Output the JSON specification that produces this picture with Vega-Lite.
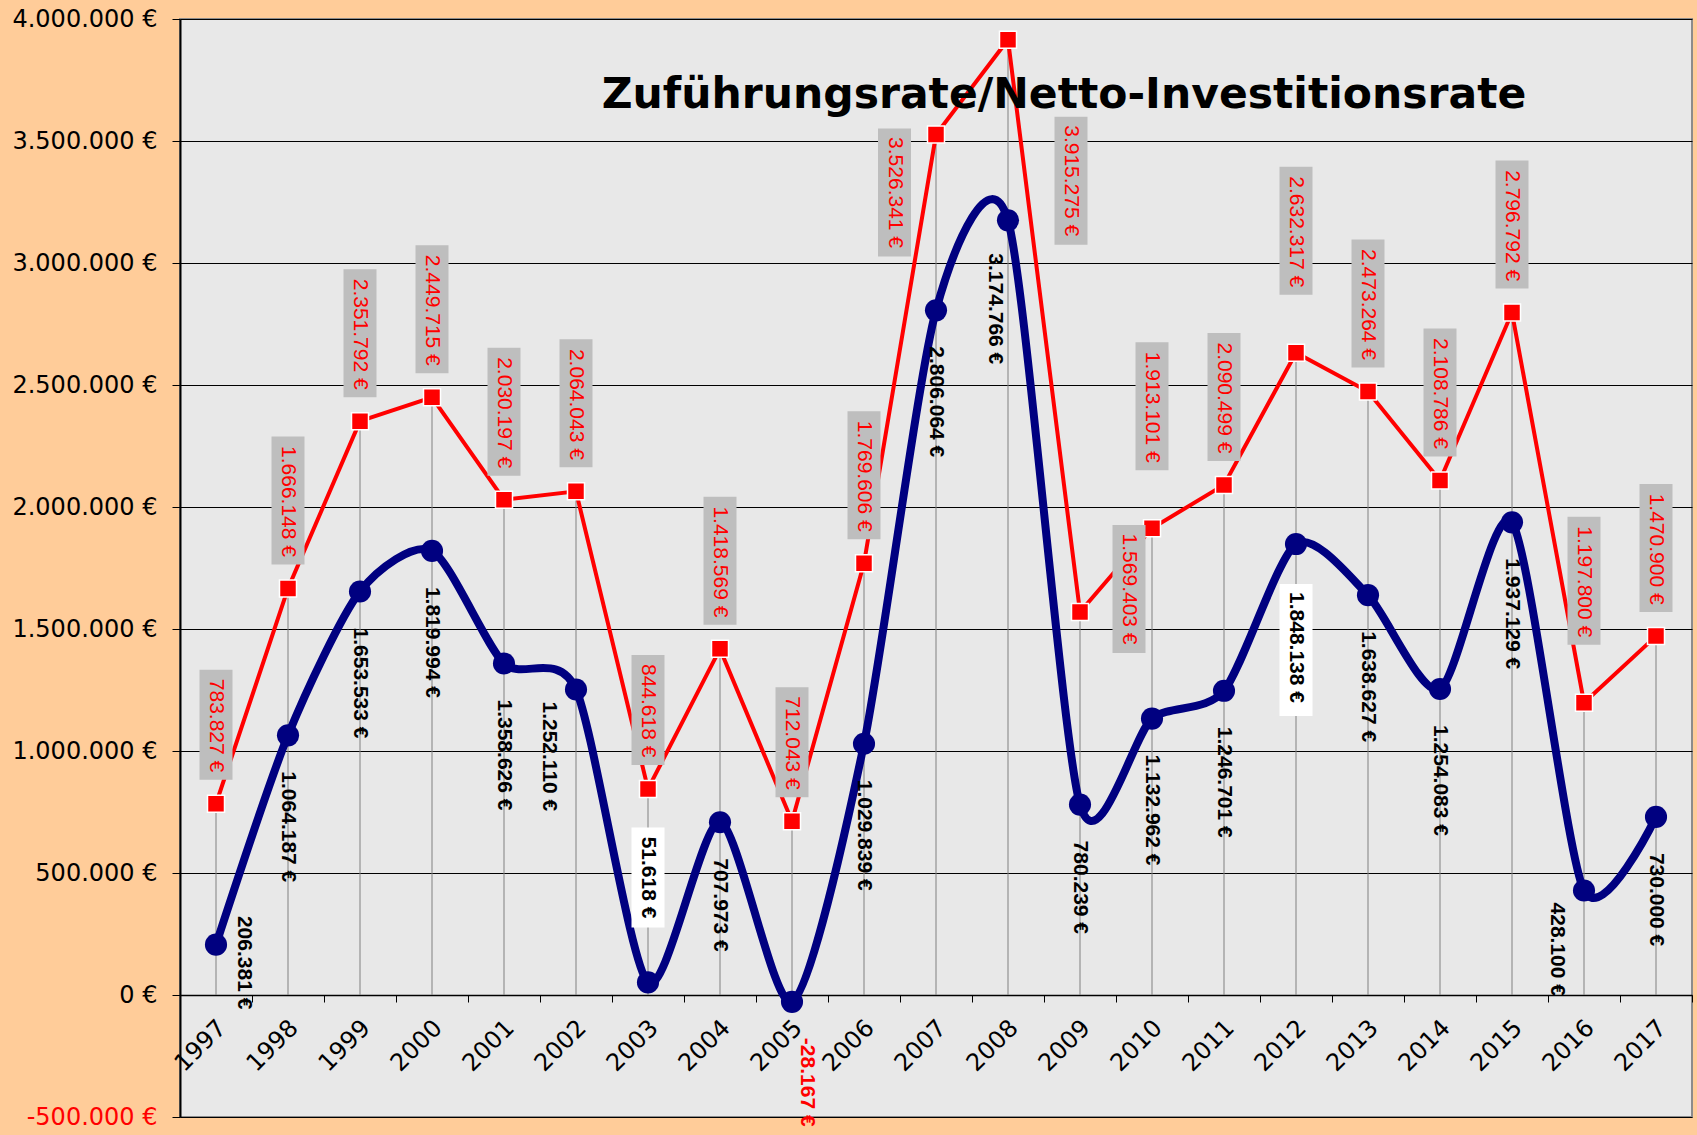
{
  "$schema": "https://vega.github.io/schema/vega-lite/v6.json",
  "width": 1512,
  "height": 1098,
  "autosize": {"type": "none"},
  "padding": {"left": 180, "top": 19, "right": 5, "bottom": 18},
  "background": "#FFCC99",
  "config": {
    "locale": {"number": {"decimal": ",", "thousands": ".", "grouping": [3], "currency": ["", " €"], "minus": "-"}},
    "view": {"fill": "#E8E8E8", "stroke": "#8C8C8C", "strokeWidth": 2},
    "font": "DejaVu Sans"
  },
  "title": {
    "text": "Zuführungsrate/Netto-Investitionsrate",
    "font": "DejaVu Sans",
    "fontSize": 42.5,
    "fontWeight": "bold",
    "color": "black",
    "anchor": "middle",
    "frame": "group",
    "orient": "top",
    "baseline": "alphabetic",
    "offset": 0,
    "dx": 128,
    "dy": 143
  },
  "data": {
    "values": [
      {"jahr": "1997", "netto": 206381, "zufuehrung": 783827},
      {"jahr": "1998", "netto": 1064187, "zufuehrung": 1666148},
      {"jahr": "1999", "netto": 1653533, "zufuehrung": 2351792},
      {"jahr": "2000", "netto": 1819994, "zufuehrung": 2449715},
      {"jahr": "2001", "netto": 1358626, "zufuehrung": 2030197},
      {"jahr": "2002", "netto": 1252110, "zufuehrung": 2064043},
      {"jahr": "2003", "netto": 51618, "zufuehrung": 844618},
      {"jahr": "2004", "netto": 707973, "zufuehrung": 1418569},
      {"jahr": "2005", "netto": -28167, "zufuehrung": 712043},
      {"jahr": "2006", "netto": 1029839, "zufuehrung": 1769606},
      {"jahr": "2007", "netto": 2806064, "zufuehrung": 3526341},
      {"jahr": "2008", "netto": 3174766, "zufuehrung": 3915275},
      {"jahr": "2009", "netto": 780239, "zufuehrung": 1569403},
      {"jahr": "2010", "netto": 1132962, "zufuehrung": 1913101},
      {"jahr": "2011", "netto": 1246701, "zufuehrung": 2090499},
      {"jahr": "2012", "netto": 1848138, "zufuehrung": 2632317},
      {"jahr": "2013", "netto": 1638627, "zufuehrung": 2473264},
      {"jahr": "2014", "netto": 1254083, "zufuehrung": 2108786},
      {"jahr": "2015", "netto": 1937129, "zufuehrung": 2796792},
      {"jahr": "2016", "netto": 428100, "zufuehrung": 1197800},
      {"jahr": "2017", "netto": 730000, "zufuehrung": 1470900}
    ]
  },
  "encoding": {
    "x": {
      "field": "jahr",
      "type": "ordinal",
      "scale": {"paddingInner": 0, "paddingOuter": 0},
      "axis": {
        "title": null,
        "orient": "bottom",
        "offset": -122,
        "labelAngle": -45,
        "labelAlign": "right",
        "labelBaseline": "middle",
        "labelFontSize": 24,
        "labelFont": "DejaVu Sans",
        "labelColor": "black",
        "labelPadding": 22,
        "labelOffset": 6,
        "labelOverlap": false,
        "tickBand": "extent",
        "tickSize": 7,
        "tickColor": "black",
        "domainColor": "black",
        "domainWidth": 1.5,
        "grid": false
      }
    }
  },
  "layer": [
    {
      "mark": {"type": "rule", "color": "#808080", "strokeWidth": 1},
      "encoding": {
        "y": {
          "field": "zufuehrung", "type": "quantitative",
          "scale": {"domain": [-500000, 4000000], "nice": false, "zero": false},
          "axis": {
            "title": null,
            "values": [-500000, 0, 500000, 1000000, 1500000, 2000000, 2500000, 3000000, 3500000, 4000000],
            "format": "$,.0f",
            "labelFontSize": 24,
            "labelFont": "DejaVu Sans",
            "labelColor": {"condition": {"test": "datum.value < 0", "value": "red"}, "value": "black"},
            "labelPadding": 15,
            "tickSize": 8,
            "tickColor": "black",
            "domainColor": "black",
            "domainWidth": 2,
            "grid": true,
            "gridColor": "black",
            "gridWidth": 1,
            "gridOpacity": 1
          }
        },
        "y2": {"datum": 0}
      }
    },
    {
      "mark": {"type": "line", "color": "#FF0000", "strokeWidth": 4},
      "encoding": {
        "y": {"field": "zufuehrung", "type": "quantitative", "scale": {"domain": [-500000, 4000000], "nice": false, "zero": false}, "axis": {"title": null}}
      }
    },
    {
      "mark": {"type": "line", "color": "#000080", "strokeWidth": 8, "interpolate": "cardinal", "tension": 0.25},
      "encoding": {
        "y": {"field": "netto", "type": "quantitative", "scale": {"domain": [-500000, 4000000], "nice": false, "zero": false}, "axis": {"title": null}}
      }
    },
    {
      "mark": {"type": "square", "size": 289, "color": "#FF0000", "filled": true, "stroke": "white", "strokeWidth": 1.5, "opacity": 1},
      "encoding": {
        "y": {"field": "zufuehrung", "type": "quantitative", "scale": {"domain": [-500000, 4000000], "nice": false, "zero": false}, "axis": {"title": null}}
      }
    },
    {
      "mark": {"type": "circle", "size": 490, "color": "#000080", "opacity": 1},
      "encoding": {
        "y": {"field": "netto", "type": "quantitative", "scale": {"domain": [-500000, 4000000], "nice": false, "zero": false}, "axis": {"title": null}}
      }
    },
    {
      "transform": [{"filter": {"and": [{"not": {"field": "jahr", "oneOf": ["2007", "2008", "2009", "2010", "2012", "2016"]}}, {"field": "zufuehrung", "gte": 1000000}]}}],
      "mark": {"type": "bar", "width": 33, "color": "#BEBEBE", "yOffset": -152, "y2Offset": -24},
      "encoding": {
        "y": {"field": "zufuehrung", "type": "quantitative", "scale": {"domain": [-500000, 4000000], "nice": false, "zero": false}, "axis": {"title": null}},
        "y2": {"field": "zufuehrung"}
      }
    },
    {
      "transform": [{"filter": {"field": "zufuehrung", "lt": 1000000}}],
      "mark": {"type": "bar", "width": 33, "color": "#BEBEBE", "yOffset": -134, "y2Offset": -24},
      "encoding": {
        "y": {"field": "zufuehrung", "type": "quantitative", "scale": {"domain": [-500000, 4000000], "nice": false, "zero": false}, "axis": {"title": null}},
        "y2": {"field": "zufuehrung"}
      }
    },
    {
      "transform": [{"filter": {"field": "jahr", "oneOf": ["2010", "2012", "2016"]}}],
      "mark": {"type": "bar", "width": 33, "color": "#BEBEBE", "yOffset": -186, "y2Offset": -58},
      "encoding": {
        "y": {"field": "zufuehrung", "type": "quantitative", "scale": {"domain": [-500000, 4000000], "nice": false, "zero": false}, "axis": {"title": null}},
        "y2": {"field": "zufuehrung"}
      }
    },
    {
      "transform": [{"filter": {"field": "jahr", "equal": "2007"}}],
      "mark": {"type": "bar", "width": 33, "color": "#BEBEBE", "xOffset": -41.5, "yOffset": -6, "y2Offset": 122},
      "encoding": {
        "y": {"field": "zufuehrung", "type": "quantitative", "scale": {"domain": [-500000, 4000000], "nice": false, "zero": false}, "axis": {"title": null}},
        "y2": {"field": "zufuehrung"}
      }
    },
    {
      "transform": [{"filter": {"field": "jahr", "equal": "2008"}}],
      "mark": {"type": "bar", "width": 33, "color": "#BEBEBE", "xOffset": 63, "yOffset": 77, "y2Offset": 205},
      "encoding": {
        "y": {"field": "zufuehrung", "type": "quantitative", "scale": {"domain": [-500000, 4000000], "nice": false, "zero": false}, "axis": {"title": null}},
        "y2": {"field": "zufuehrung"}
      }
    },
    {
      "transform": [{"filter": {"field": "jahr", "equal": "2009"}}],
      "mark": {"type": "bar", "width": 33, "color": "#BEBEBE", "xOffset": 49, "yOffset": -87, "y2Offset": 41},
      "encoding": {
        "y": {"field": "zufuehrung", "type": "quantitative", "scale": {"domain": [-500000, 4000000], "nice": false, "zero": false}, "axis": {"title": null}},
        "y2": {"field": "zufuehrung"}
      }
    },
    {
      "transform": [{"filter": {"not": {"field": "jahr", "oneOf": ["2007", "2008", "2009", "2010", "2012", "2016"]}}}],
      "mark": {"type": "text", "angle": 90, "align": "right", "baseline": "middle", "dx": -31.5, "font": "Liberation Sans", "fontSize": 21, "color": "#FF0000"},
      "encoding": {
        "y": {"field": "zufuehrung", "type": "quantitative", "scale": {"domain": [-500000, 4000000], "nice": false, "zero": false}, "axis": {"title": null}},
        "text": {"field": "zufuehrung", "type": "quantitative", "format": "$,.0f"}
      }
    },
    {
      "transform": [{"filter": {"field": "jahr", "oneOf": ["2010", "2012", "2016"]}}],
      "mark": {"type": "text", "angle": 90, "align": "right", "baseline": "middle", "dx": -65.5, "font": "Liberation Sans", "fontSize": 21, "color": "#FF0000"},
      "encoding": {
        "y": {"field": "zufuehrung", "type": "quantitative", "scale": {"domain": [-500000, 4000000], "nice": false, "zero": false}, "axis": {"title": null}},
        "text": {"field": "zufuehrung", "type": "quantitative", "format": "$,.0f"}
      }
    },
    {
      "transform": [{"filter": {"field": "jahr", "equal": "2007"}}],
      "mark": {"type": "text", "angle": 90, "align": "center", "baseline": "middle", "dx": 58, "dy": 41.5, "font": "Liberation Sans", "fontSize": 21, "color": "#FF0000"},
      "encoding": {
        "y": {"field": "zufuehrung", "type": "quantitative", "scale": {"domain": [-500000, 4000000], "nice": false, "zero": false}, "axis": {"title": null}},
        "text": {"field": "zufuehrung", "type": "quantitative", "format": "$,.0f"}
      }
    },
    {
      "transform": [{"filter": {"field": "jahr", "equal": "2008"}}],
      "mark": {"type": "text", "angle": 90, "align": "center", "baseline": "middle", "dx": 141, "dy": -63, "font": "Liberation Sans", "fontSize": 21, "color": "#FF0000"},
      "encoding": {
        "y": {"field": "zufuehrung", "type": "quantitative", "scale": {"domain": [-500000, 4000000], "nice": false, "zero": false}, "axis": {"title": null}},
        "text": {"field": "zufuehrung", "type": "quantitative", "format": "$,.0f"}
      }
    },
    {
      "transform": [{"filter": {"field": "jahr", "equal": "2009"}}],
      "mark": {"type": "text", "angle": 90, "align": "center", "baseline": "middle", "dx": -23, "dy": -49, "font": "Liberation Sans", "fontSize": 21, "color": "#FF0000"},
      "encoding": {
        "y": {"field": "zufuehrung", "type": "quantitative", "scale": {"domain": [-500000, 4000000], "nice": false, "zero": false}, "axis": {"title": null}},
        "text": {"field": "zufuehrung", "type": "quantitative", "format": "$,.0f"}
      }
    },
    {
      "transform": [{"filter": {"field": "jahr", "equal": "2003"}}],
      "mark": {"type": "bar", "width": 33, "color": "white", "yOffset": -155, "y2Offset": -55},
      "encoding": {
        "y": {"field": "netto", "type": "quantitative", "scale": {"domain": [-500000, 4000000], "nice": false, "zero": false}, "axis": {"title": null}},
        "y2": {"field": "netto"}
      }
    },
    {
      "transform": [{"filter": {"field": "jahr", "equal": "2012"}}],
      "mark": {"type": "bar", "width": 33, "color": "white", "yOffset": 40, "y2Offset": 172},
      "encoding": {
        "y": {"field": "netto", "type": "quantitative", "scale": {"domain": [-500000, 4000000], "nice": false, "zero": false}, "axis": {"title": null}},
        "y2": {"field": "netto"}
      }
    },
    {
      "transform": [{"filter": {"not": {"field": "jahr", "oneOf": ["1997", "2002", "2003", "2005", "2008", "2012", "2016"]}}}],
      "mark": {"type": "text", "angle": 90, "align": "left", "baseline": "middle", "dx": 36, "font": "Liberation Sans", "fontSize": 21, "fontWeight": "bold", "color": "black"},
      "encoding": {
        "y": {"field": "netto", "type": "quantitative", "scale": {"domain": [-500000, 4000000], "nice": false, "zero": false}, "axis": {"title": null}},
        "text": {"field": "netto", "type": "quantitative", "format": "$,.0f"}
      }
    },
    {
      "transform": [{"filter": {"field": "jahr", "equal": "2005"}}],
      "mark": {"type": "text", "angle": 90, "align": "left", "baseline": "middle", "dx": 36, "dy": -15, "font": "Liberation Sans", "fontSize": 21, "fontWeight": "bold", "color": "#FF0000"},
      "encoding": {
        "y": {"field": "netto", "type": "quantitative", "scale": {"domain": [-500000, 4000000], "nice": false, "zero": false}, "axis": {"title": null}},
        "text": {"field": "netto", "type": "quantitative", "format": "$,.0f"}
      }
    },
    {
      "transform": [{"filter": {"field": "jahr", "equal": "1997"}}],
      "mark": {"type": "text", "angle": 90, "align": "center", "baseline": "middle", "dx": 18, "dy": -28, "font": "Liberation Sans", "fontSize": 21, "fontWeight": "bold", "color": "black"},
      "encoding": {
        "y": {"field": "netto", "type": "quantitative", "scale": {"domain": [-500000, 4000000], "nice": false, "zero": false}, "axis": {"title": null}},
        "text": {"field": "netto", "type": "quantitative", "format": "$,.0f"}
      }
    },
    {
      "transform": [{"filter": {"field": "jahr", "oneOf": ["2002", "2016"]}}],
      "mark": {"type": "text", "angle": 90, "align": "left", "baseline": "middle", "dx": 12, "dy": 27, "font": "Liberation Sans", "fontSize": 21, "fontWeight": "bold", "color": "black"},
      "encoding": {
        "y": {"field": "netto", "type": "quantitative", "scale": {"domain": [-500000, 4000000], "nice": false, "zero": false}, "axis": {"title": null}},
        "text": {"field": "netto", "type": "quantitative", "format": "$,.0f"}
      }
    },
    {
      "transform": [{"filter": {"field": "jahr", "equal": "2008"}}],
      "mark": {"type": "text", "angle": 90, "align": "left", "baseline": "middle", "dx": 33, "dy": 13, "font": "Liberation Sans", "fontSize": 21, "fontWeight": "bold", "color": "black"},
      "encoding": {
        "y": {"field": "netto", "type": "quantitative", "scale": {"domain": [-500000, 4000000], "nice": false, "zero": false}, "axis": {"title": null}},
        "text": {"field": "netto", "type": "quantitative", "format": "$,.0f"}
      }
    },
    {
      "transform": [{"filter": {"field": "jahr", "equal": "2003"}}],
      "mark": {"type": "text", "angle": 90, "align": "right", "baseline": "middle", "dx": -64, "font": "Liberation Sans", "fontSize": 21, "fontWeight": "bold", "color": "black"},
      "encoding": {
        "y": {"field": "netto", "type": "quantitative", "scale": {"domain": [-500000, 4000000], "nice": false, "zero": false}, "axis": {"title": null}},
        "text": {"field": "netto", "type": "quantitative", "format": "$,.0f"}
      }
    },
    {
      "transform": [{"filter": {"field": "jahr", "equal": "2012"}}],
      "mark": {"type": "text", "angle": 90, "align": "left", "baseline": "middle", "dx": 48, "font": "Liberation Sans", "fontSize": 21, "fontWeight": "bold", "color": "black"},
      "encoding": {
        "y": {"field": "netto", "type": "quantitative", "scale": {"domain": [-500000, 4000000], "nice": false, "zero": false}, "axis": {"title": null}},
        "text": {"field": "netto", "type": "quantitative", "format": "$,.0f"}
      }
    }
  ]
}
